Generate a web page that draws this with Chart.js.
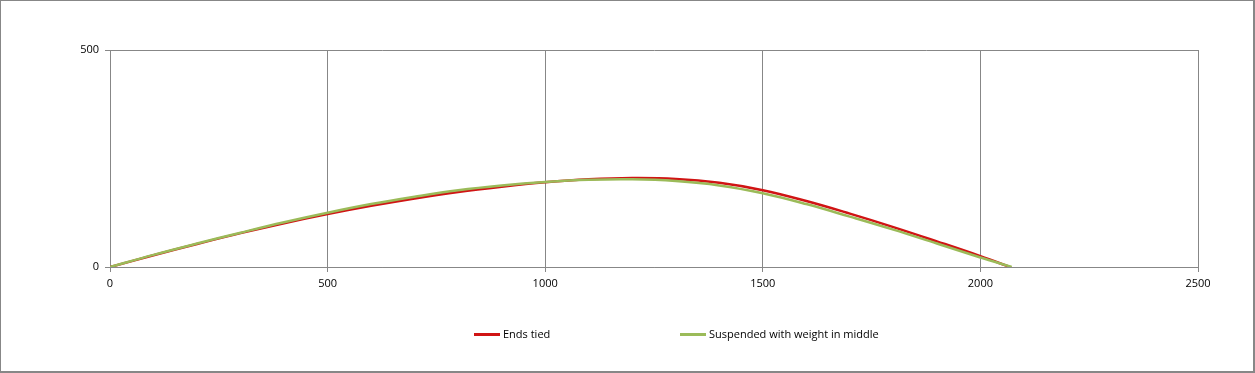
<!DOCTYPE html>
<html>
<head>
<meta charset="utf-8">
<script src="https://cdn.jsdelivr.net/npm/chart.js@4/dist/chart.umd.min.js"></script>
<style>
  html, body { margin: 0; padding: 0; background: #fff; }
  #wrap { position: relative; width: 1255px; height: 373px; box-sizing: border-box; border: 1px solid #878787; border-right-width: 2px; border-bottom-width: 2px; overflow: hidden; }
  #c { position: absolute; left: -1px; top: -1px; }
  .leg { position: absolute; top: 325px; font: 11px "Open Sans", "Noto Sans", sans-serif; color: #000; white-space: nowrap; }
  .leg span.sw { display: inline-block; width: 26px; height: 3px; vertical-align: middle; margin-right: 3px; position: relative; top: -1px; }
</style>
</head>
<body>
<div id="wrap">
  <canvas id="c" width="1255" height="373"></canvas>
  <div class="leg" style="left:473px"><span class="sw" style="background:#d01414"></span>Ends tied</div>
  <div class="leg" style="left:679px"><span class="sw" style="background:#9BBB59"></span>Suspended with weight in middle</div>
</div>
<script>
const seriesNames = ["Ends tied", "Suspended with weight in middle"];
const xTicks = [0, 500, 1000, 1500, 2000, 2500];
const yTicks = [0, 500];

const endsTiedX = [0, 100, 200, 300, 400, 500, 600, 700, 800, 900, 1000, 1100, 1200, 1300, 1400, 1500, 1600, 1700, 1800, 1900, 2000, 2068];
const endsTiedY = [0, 27, 53, 78, 101, 122, 141, 158, 173, 185, 195, 202, 205, 203, 194, 177, 152, 123, 92, 59, 25, 0];

const suspendedX = [0, 100, 200, 300, 400, 500, 600, 700, 800, 900, 1000, 1100, 1200, 1300, 1400, 1500, 1600, 1700, 1800, 1900, 2000, 2072];
const suspendedY = [0, 28, 54, 79, 103, 125, 145, 162, 177, 188, 196, 201, 202, 198, 188, 170, 145, 116, 86, 54, 22, 0];

const toPts = (xs, ys) => xs.map((x, i) => ({ x: x, y: ys[i] }));
const tickFont = { family: '"Open Sans", "Noto Sans", sans-serif', size: 11 };

new Chart(document.getElementById('c'), {
  type: 'scatter',
  data: {
    datasets: [
      { label: seriesNames[0], data: toPts(endsTiedX, endsTiedY), showLine: true, borderColor: '#d01414', borderWidth: 2.5, pointRadius: 0, tension: 0.4, order: 1 },
      { label: seriesNames[1], data: toPts(suspendedX, suspendedY), showLine: true, borderColor: '#9BBB59', borderWidth: 2.5, pointRadius: 0, tension: 0.4, order: 0 }
    ]
  },
  options: {
    responsive: false,
    animation: false,
    layout: { padding: { top: 50, right: 57, left: 0, bottom: 76 } },
    plugins: { legend: { display: false }, tooltip: { enabled: false } },
    scales: {
      x: {
        type: 'linear', min: 0, max: 2500,
        afterBuildTicks: s => { s.ticks = xTicks.map(v => ({ value: v })); },
        afterFit: s => { s.height = 30; },
        grid: { color: '#878787', lineWidth: 1, tickLength: 5, drawTicks: true },
        border: { color: '#878787' },
        ticks: { color: '#000', padding: 5, maxRotation: 0, font: tickFont, callback: v => String(v) }
      },
      y: {
        type: 'linear', min: 0, max: 500,
        afterBuildTicks: s => { s.ticks = yTicks.map(v => ({ value: v })); },
        afterFit: s => { s.width = 110; },
        grid: { color: '#878787', lineWidth: 1, tickLength: 5 },
        border: { color: '#878787' },
        ticks: { color: '#000', padding: 6, font: tickFont, callback: v => String(v) }
      }
    }
  }
});
</script>
</body>
</html>
